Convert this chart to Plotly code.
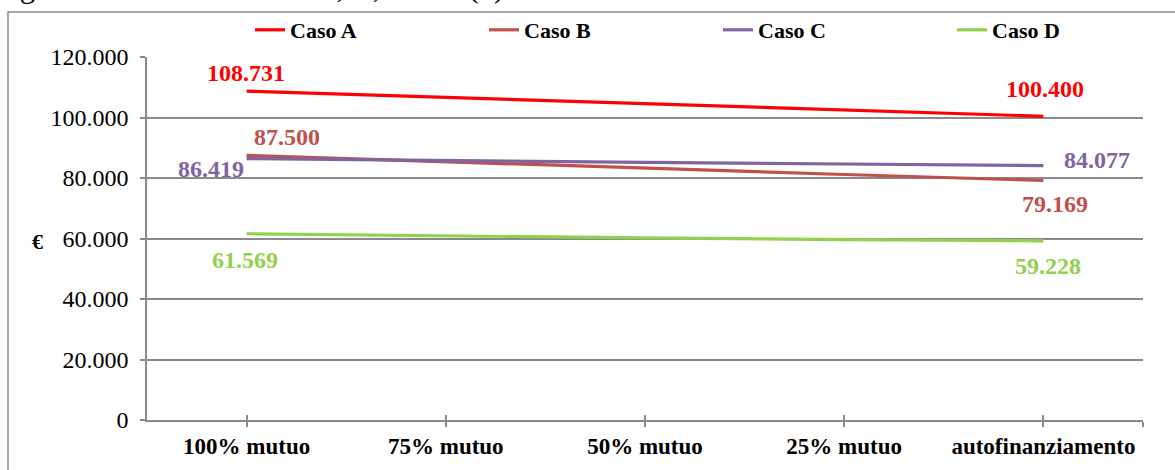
import plotly.graph_objects as go

categories = ["100% mutuo", "75% mutuo", "50% mutuo", "25% mutuo", "autofinanziamento"]
series_names = ["Caso A", "Caso B", "Caso C", "Caso D"]
caso_a = [108731, 106700, 104650, 102550, 100400]
caso_b = [87500, 85300, 83200, 81150, 79169]
caso_c = [86419, 85700, 85150, 84620, 84077]
caso_d = [61569, 60800, 60200, 59650, 59228]
y_ticks = [0, 20000, 40000, 60000, 80000, 100000, 120000]
title_text = "Fig. 23 \u2002\u2013\u2002 VAN dei casi A, B, C e D (\u20ac)"
y_unit = "\u20ac"

colors = ["#FF0000", "#C0504D", "#8064A2", "#92D050"]
FONT = "Liberation Serif"
GRID = "#8a8a8a"

def fmt(v):
    return f"{v:,}".replace(",", ".")

W, H = 1175, 470
L, R, T, B = 147, 32, 57, 50
PW, PH = W - L - R, H - T - B

def px2paper_x(px):
    return (px - L) / PW

def px2paper_y(py):
    return (H - B - py) / PH

fig = go.Figure()
all_series = [caso_a, caso_b, caso_c, caso_d]
xs = list(range(len(categories)))
for name, vals, col in zip(series_names, all_series, colors):
    fig.add_trace(go.Scatter(x=xs, y=vals, name=name, mode="lines",
                             line=dict(color=col, width=3.2),
                             hoverinfo="skip"))

# label offsets (first, last) in pixels: (xshift, yshift)
offsets = [((-1, 18), (2, 27)),
           ((40, 18), (12, -23)),
           ((-36, -10), (54, 6)),
           ((-2, -26), (5, -25))]
annotations = []
for vals, col, (o1, o2) in zip(all_series, colors, offsets):
    for idx, (dx, dy) in ((0, o1), (len(vals) - 1, o2)):
        annotations.append(dict(x=xs[idx], y=vals[idx], xref="x", yref="y",
                                text=fmt(vals[idx]), showarrow=False,
                                xshift=dx, yshift=dy,
                                font=dict(family=FONT, size=24, color=col, weight="bold")))

annotations.append(dict(x=px2paper_x(30), y=px2paper_y(242), xref="paper", yref="paper",
                        text=y_unit, showarrow=False,
                        font=dict(family=FONT, size=22, color="black", weight="bold")))
annotations.append(dict(x=px2paper_x(506), y=px2paper_y(6), xref="paper", yref="paper",
                        xanchor="right", yanchor="bottom",
                        text=title_text, showarrow=False,
                        font=dict(family=FONT, size=31, color="black")))

shapes = [dict(type="rect", xref="paper", yref="paper",
               x0=px2paper_x(8), y0=px2paper_y(490), x1=px2paper_x(1190), y1=px2paper_y(12),
               line=dict(color="#8c8c8c", width=1.5), fillcolor="rgba(0,0,0,0)", layer="below")]

fig.update_layout(
    width=W, height=H,
    margin=dict(l=L, r=R, t=T, b=B, autoexpand=False),
    paper_bgcolor="white", plot_bgcolor="white",
    font=dict(family=FONT, color="black"),
    showlegend=True,
    legend=dict(orientation="h", xref="paper", yref="paper",
                x=px2paper_x(250), y=px2paper_y(30), xanchor="left", yanchor="middle",
                entrywidth=189, entrywidthmode="pixels",
                font=dict(family=FONT, size=22, color="black", weight="bold"),
                bgcolor="rgba(0,0,0,0)", tracegroupgap=0, itemclick=False),
    annotations=annotations,
    shapes=shapes,
    xaxis=dict(range=[-0.5, len(categories) - 0.5], tickmode="array",
               tickvals=xs + [len(categories) - 0.5], ticktext=categories + [""],
               ticks="outside", ticklen=5, tickcolor=GRID, tickwidth=1.5,
               showline=True, linecolor=GRID, linewidth=1.5, showgrid=False, zeroline=False,
               tickfont=dict(family=FONT, size=23, color="black", weight="bold"),
               ticklabelstandoff=0, automargin=False, fixedrange=True),
    xaxis2=dict(range=[-0.5, len(categories) - 0.5], overlaying="x", anchor="y",
                tickmode="array", tickvals=xs + [len(categories) - 0.5],
                ticks="inside", ticklen=5, tickcolor=GRID, tickwidth=1.5,
                showticklabels=False, showline=False, showgrid=False, zeroline=False,
                side="bottom", automargin=False, fixedrange=True),
    yaxis=dict(range=[0, 120000], tickmode="array", tickvals=y_ticks,
               ticktext=[fmt(v) for v in y_ticks],
               ticks="outside", ticklen=5, tickcolor=GRID, tickwidth=1.5,
               showline=True, linecolor=GRID, linewidth=1.5,
               showgrid=True, gridcolor=GRID, gridwidth=1.5, zeroline=False,
               tickfont=dict(family=FONT, size=24, color="black"),
               ticklabelstandoff=7, automargin=False, fixedrange=True),
)
fig.add_trace(go.Scatter(x=[None], y=[None], xaxis="x2", yaxis="y", showlegend=False,
                         hoverinfo="skip"))

fig.write_html("out.html", config={"displayModeBar": False})
